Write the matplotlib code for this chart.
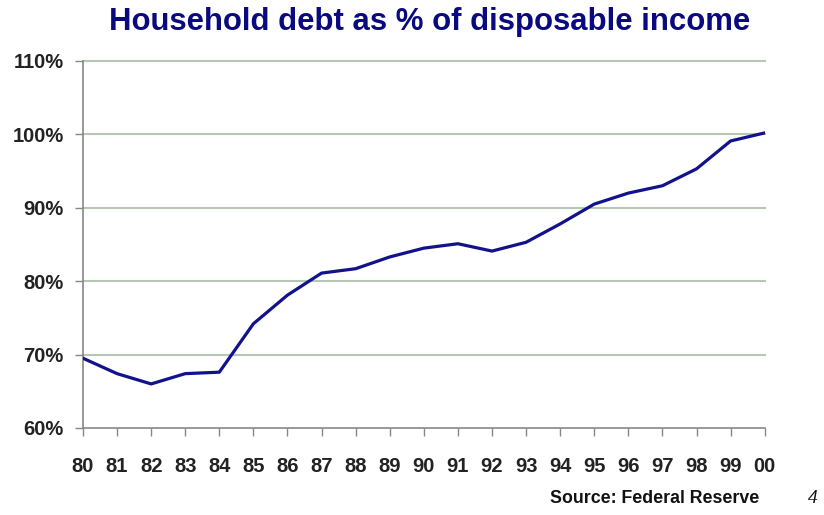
import matplotlib
matplotlib.use("Agg")
import matplotlib.pyplot as plt

years = ["80", "81", "82", "83", "84", "85", "86", "87", "88", "89", "90",
         "91", "92", "93", "94", "95", "96", "97", "98", "99", "00"]
debt_pct = [69.5, 67.4, 66.0, 67.4, 67.6, 74.2, 78.1, 81.1, 81.7, 83.3, 84.5,
            85.1, 84.1, 85.3, 87.8, 90.5, 92.0, 93.0, 95.3, 99.1, 100.2]
yticks = [60, 70, 80, 90, 100, 110]
ytick_labels = ["60%", "70%", "80%", "90%", "100%", "110%"]

plt.rcParams['font.family'] = ['Liberation Sans', 'DejaVu Sans']

fig = plt.figure(figsize=(8.24, 5.15), dpi=100)
ax = fig.add_axes([0.1007, 0.169, 0.8273, 0.7126])

x = list(range(len(years)))
ax.plot(x, debt_pct, color="#12128c", linewidth=2.3, solid_joinstyle="round", zorder=3)

ax.set_xlim(0, len(years) - 1)
ax.set_ylim(60, 110)
ax.set_xticks(x)
ax.set_xticklabels(years, fontsize=14.5, fontweight="bold", color="#222222")
ax.set_yticks(yticks)
ax.set_yticklabels(ytick_labels, fontsize=14.5, fontweight="bold", color="#222222")
ax.tick_params(axis="x", direction="out", length=6, width=1, color="#888888", pad=15)
ax.tick_params(axis="y", direction="out", length=6, width=1, color="#888888", pad=8)

for v in yticks[1:]:
    ax.axhline(v, color="#b4c8b4", linewidth=1.5, zorder=0, clip_on=False)

for s in ["top", "right"]:
    ax.spines[s].set_visible(False)
for s in ["left", "bottom"]:
    ax.spines[s].set_color("#888888")
    ax.spines[s].set_linewidth(1.2)

fig.text(0.521, 0.958, "Household debt as % of disposable income", ha="center", va="center",
         fontsize=22.4, fontweight="bold", color="#0a0a80")
fig.text(0.922, 0.033, "Source: Federal Reserve", ha="right", va="center",
         fontsize=12.8, fontweight="bold", color="#111111")
fig.text(0.987, 0.033, "4", ha="center", va="center", fontsize=14, style="italic",
         family="Liberation Serif", color="#111111")

fig.savefig("out.png", dpi=100)
